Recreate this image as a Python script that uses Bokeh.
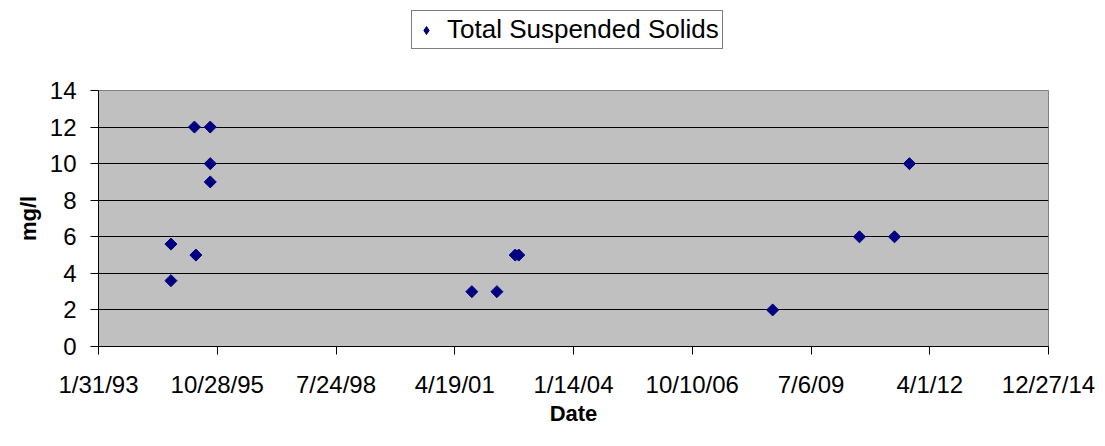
import numpy as np
import pandas as pd
from bokeh.plotting import figure
from bokeh.layouts import column
from bokeh.models import (ColumnDataSource, FixedTicker, CustomJSTickFormatter,
                          Legend, LegendItem, Range1d)
from bokeh.embed import file_html
from bokeh.resources import INLINE

# ---- data ----
sample_dates = ["1994-10-03", "1994-10-03", "1995-04-19", "1995-05-01",
                "1995-08-30", "1995-08-30", "1995-08-30", "2001-09-10",
                "2002-04-09", "2002-09-10", "2002-10-10", "2008-08-17",
                "2010-08-18", "2011-06-09", "2011-10-13"]
tss_values = [5.6, 3.6, 12, 5, 12, 10, 9, 3, 3, 5, 5, 2, 6, 6, 10]
x_tick_labels = ["1/31/93", "10/28/95", "7/24/98", "4/19/01", "1/14/04",
                 "10/10/06", "7/6/09", "4/1/12", "12/27/14"]
y_ticks = [0, 2, 4, 6, 8, 10, 12, 14]
series_name = "Total Suspended Solids"

FONT = "Liberation Sans"
NAVY = "#000080"
W = 1100


def to_ms(ts):
    return (pd.to_datetime(ts) - pd.Timestamp("1970-01-01")) // pd.Timedelta(milliseconds=1)


xs = [float(to_ms(d)) for d in sample_dates]
x_ticks = [float(to_ms(pd.to_datetime(t, format="%m/%d/%y"))) for t in x_tick_labels]

src = ColumnDataSource(dict(x=xs, y=tss_values))

# ---- main chart ----
p = figure(width=W, height=380, output_backend="svg", toolbar_location=None,
           x_range=Range1d(x_ticks[0], x_ticks[-1]), y_range=Range1d(0, 14))
p.min_border_left = 98
p.min_border_right = W - 1048
p.min_border_top = 30
p.min_border_bottom = 94
p.border_fill_color = "white"
p.background_fill_color = "#C0C0C0"
p.outline_line_color = "#808080"
p.outline_line_width = 1

p.scatter("x", "y", source=src, marker="square", angle=np.pi / 4, size=8.5,
          fill_color=NAVY, line_color=NAVY)

p.xaxis.ticker = FixedTicker(ticks=x_ticks)
p.xaxis.formatter = CustomJSTickFormatter(code="""
const d = new Date(tick);
return (d.getUTCMonth()+1) + "/" + d.getUTCDate() + "/" + String(d.getUTCFullYear()).slice(2);
""")
p.yaxis.ticker = FixedTicker(ticks=y_ticks)
for ax in (p.xaxis[0], p.yaxis[0]):
    ax.major_label_text_font = FONT
    ax.major_label_text_font_size = "24px"
    ax.major_label_text_color = "black"
    ax.axis_line_color = "black"
    ax.major_tick_line_color = "black"
    ax.major_tick_out = 8
    ax.major_tick_in = 0
    ax.minor_tick_out = 0
    ax.minor_tick_in = 0
    ax.axis_label_text_font = FONT
    ax.axis_label_text_font_style = "bold"
    ax.axis_label_text_font_size = "22px"
    ax.axis_label_text_color = "black"

p.xaxis.axis_label = "Date"
p.yaxis.axis_label = "mg/l"
p.xaxis.major_label_standoff = 16
p.yaxis.major_label_standoff = 14
p.xaxis.axis_label_standoff = 0
p.yaxis.axis_label_standoff = 6

p.xgrid.grid_line_color = None
p.ygrid.grid_line_color = "black"
p.ygrid.grid_line_width = 1

# ---- legend strip on top (its frame is aligned with the chart frame) ----
lg = figure(width=W, height=60, output_backend="svg", toolbar_location=None,
            x_axis_location=None, y_axis_location=None,
            x_range=Range1d(0, 1), y_range=Range1d(0, 1))
lg.min_border = 0
lg.outline_line_color = None
lg.background_fill_color = "white"
lg.border_fill_color = "white"
lg.xgrid.visible = False
lg.ygrid.visible = False
# same series; its points fall outside this strip's ranges, only the legend swatch shows
swatch = lg.scatter("x", "y", source=src, marker="diamond", size=11,
                    fill_color=NAVY, line_color=NAVY)

legend = Legend(items=[LegendItem(label=series_name, renderers=[swatch])],
                location=(313, 11), orientation="horizontal")
legend.label_text_font = FONT
legend.label_text_font_size = "26px"
legend.label_text_line_height = 1.0
legend.label_text_color = "black"
legend.border_line_color = "black"
legend.border_line_width = 1
legend.background_fill_color = "white"
legend.background_fill_alpha = 1
legend.padding = 3
legend.margin = 0
legend.glyph_width = 22
legend.label_standoff = 10
lg.add_layout(legend, "center")

layout = column(lg, p, spacing=0)
open("out.html", "w").write(file_html(layout, INLINE))
